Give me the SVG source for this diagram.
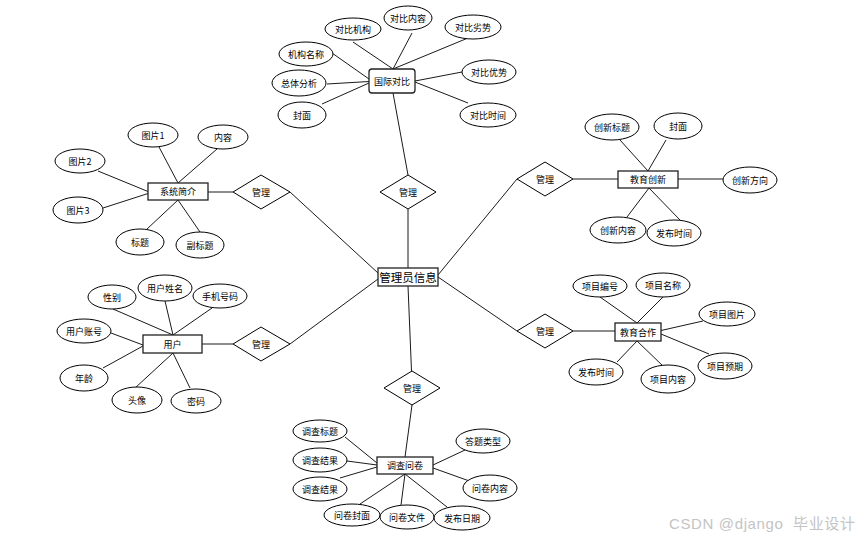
<svg xmlns="http://www.w3.org/2000/svg" width="859" height="540" viewBox="0 0 859 540">
<style>
.bg{fill:#fff}
.ln{stroke:#000;stroke-width:0.9;fill:none}
.el{fill:#fff;stroke:#000;stroke-width:1}
.ent{fill:#fff;stroke:#222;stroke-width:1.3}
.dia{fill:#fff;stroke:#000;stroke-width:1}
text{font-family:"Noto Sans CJK SC","Noto Sans",sans-serif;font-size:9px;fill:#000;text-anchor:middle;dominant-baseline:central}
.big{font-size:11.5px}
.wm{font-family:"Liberation Sans","Noto Sans CJK SC",sans-serif;font-size:15px;fill:#c4c4c4;text-anchor:start;dominant-baseline:alphabetic;white-space:pre}
</style>
<rect class="bg" x="0" y="0" width="859" height="540"/>
<g id="connectors">
<line class="ln" x1="408" y1="209" x2="408" y2="268"/>
<line class="ln" x1="393" y1="93" x2="408" y2="175"/>
<line class="ln" x1="290" y1="192" x2="378" y2="273"/>
<line class="ln" x1="208" y1="192" x2="233" y2="192"/>
<line class="ln" x1="517" y1="179" x2="438" y2="275"/>
<line class="ln" x1="573" y1="179" x2="618" y2="179"/>
<line class="ln" x1="290" y1="344" x2="378" y2="279"/>
<line class="ln" x1="202" y1="344" x2="233" y2="344"/>
<line class="ln" x1="517" y1="331" x2="438" y2="277"/>
<line class="ln" x1="573" y1="331" x2="615" y2="331"/>
<line class="ln" x1="408" y1="286" x2="411.5" y2="371"/>
<line class="ln" x1="412" y1="405" x2="405" y2="457"/>
<line class="ln" x1="353" y1="42" x2="393" y2="69"/>
<line class="ln" x1="412" y1="33" x2="393" y2="69"/>
<line class="ln" x1="468" y1="38" x2="393" y2="69"/>
<line class="ln" x1="332" y1="53" x2="369" y2="79"/>
<line class="ln" x1="327" y1="84" x2="369" y2="81.5"/>
<line class="ln" x1="322" y1="104" x2="369" y2="83"/>
<line class="ln" x1="462" y1="72" x2="415" y2="81"/>
<line class="ln" x1="468" y1="103" x2="415" y2="82"/>
<line class="ln" x1="159" y1="147" x2="178" y2="183"/>
<line class="ln" x1="217" y1="149" x2="178" y2="183"/>
<line class="ln" x1="98" y1="171" x2="148" y2="191.5"/>
<line class="ln" x1="103" y1="208" x2="148" y2="193.5"/>
<line class="ln" x1="147" y1="229" x2="178" y2="200"/>
<line class="ln" x1="200" y1="232" x2="178" y2="200"/>
<line class="ln" x1="620" y1="140" x2="648" y2="171"/>
<line class="ln" x1="666" y1="140" x2="648" y2="171"/>
<line class="ln" x1="678" y1="179" x2="723" y2="179"/>
<line class="ln" x1="627" y1="217" x2="649" y2="188"/>
<line class="ln" x1="680" y1="220" x2="649" y2="188"/>
<line class="ln" x1="113" y1="309" x2="173" y2="335"/>
<line class="ln" x1="165" y1="301" x2="173" y2="335"/>
<line class="ln" x1="212" y1="308" x2="173" y2="335"/>
<line class="ln" x1="111" y1="333" x2="143" y2="345"/>
<line class="ln" x1="103" y1="368" x2="143" y2="346"/>
<line class="ln" x1="135" y1="388" x2="173" y2="353"/>
<line class="ln" x1="190" y1="388" x2="173" y2="353"/>
<line class="ln" x1="600" y1="297" x2="637" y2="323"/>
<line class="ln" x1="663" y1="297" x2="637" y2="323"/>
<line class="ln" x1="703" y1="321" x2="661" y2="330.5"/>
<line class="ln" x1="709" y1="354" x2="661" y2="334"/>
<line class="ln" x1="617" y1="362" x2="637" y2="341"/>
<line class="ln" x1="663" y1="366" x2="637" y2="341"/>
<line class="ln" x1="345" y1="437" x2="377" y2="463"/>
<line class="ln" x1="347" y1="461" x2="377" y2="465"/>
<line class="ln" x1="340" y1="478" x2="377" y2="467"/>
<line class="ln" x1="360" y1="504" x2="405" y2="474"/>
<line class="ln" x1="401" y1="505" x2="405" y2="474"/>
<line class="ln" x1="447" y1="507" x2="405" y2="474"/>
<line class="ln" x1="465" y1="450" x2="433" y2="465"/>
<line class="ln" x1="475" y1="483" x2="433" y2="468"/>
</g>

<g id="center"><rect class="ent" x="378" y="268" width="60" height="18"/><text class="big" x="408" y="277">管理员信息</text></g>

<g id="rel-top"><polygon class="dia" points="408,175 436,192 408,209 380,192"/><text x="408" y="192">管理</text></g>
<g id="rel-left1"><polygon class="dia" points="261,175 290,192 261,209 233,192"/><text x="261" y="192">管理</text></g>
<g id="rel-right1"><polygon class="dia" points="545,162 573,179 545,196 517,179"/><text x="545" y="179">管理</text></g>
<g id="rel-left2"><polygon class="dia" points="261,327 290,344 261,361 233,344"/><text x="261" y="344">管理</text></g>
<g id="rel-right2"><polygon class="dia" points="545,314 573,331 545,348 517,331"/><text x="545" y="331">管理</text></g>
<g id="rel-bottom"><polygon class="dia" points="412,371 440,388 412,405 384,388"/><text x="412" y="388">管理</text></g>

<g id="guoji"><rect class="ent" x="369" y="69" width="46" height="24" rx="3"/><text x="392" y="81">国际对比</text></g>
<g id="a-duibijigou"><ellipse class="el" cx="353" cy="29" rx="28" ry="11"/><text x="353" y="29">对比机构</text></g>
<g id="a-duibineirong"><ellipse class="el" cx="408" cy="18" rx="24" ry="12"/><text x="408" y="18">对比内容</text></g>
<g id="a-duibilieshi"><ellipse class="el" cx="473" cy="27" rx="28" ry="12"/><text x="473" y="27">对比劣势</text></g>
<g id="a-jigoumingcheng"><ellipse class="el" cx="306" cy="54" rx="27" ry="12"/><text x="306" y="54">机构名称</text></g>
<g id="a-zongtifenxi"><ellipse class="el" cx="299" cy="83" rx="27" ry="13"/><text x="299" y="83">总体分析</text></g>
<g id="a-fengmian1"><ellipse class="el" cx="302" cy="115" rx="24" ry="13"/><text x="302" y="115">封面</text></g>
<g id="a-duibiyoushi"><ellipse class="el" cx="489" cy="72" rx="27" ry="12"/><text x="489" y="72">对比优势</text></g>
<g id="a-duibishijian"><ellipse class="el" cx="488" cy="115" rx="28" ry="12"/><text x="488" y="115">对比时间</text></g>

<g id="xitong"><rect class="ent" x="148" y="183" width="60" height="17"/><text x="178" y="191.5">系统简介</text></g>
<g id="a-tupian1"><ellipse class="el" cx="153" cy="135" rx="25" ry="12"/><text x="153" y="135">图片1</text></g>
<g id="a-neirong"><ellipse class="el" cx="223" cy="137" rx="25" ry="12"/><text x="223" y="137">内容</text></g>
<g id="a-tupian2"><ellipse class="el" cx="80" cy="161" rx="25" ry="12"/><text x="80" y="161">图片2</text></g>
<g id="a-tupian3"><ellipse class="el" cx="78" cy="210" rx="25" ry="13"/><text x="78" y="210">图片3</text></g>
<g id="a-biaoti"><ellipse class="el" cx="140" cy="242" rx="24" ry="13"/><text x="140" y="242">标题</text></g>
<g id="a-fubiaoti"><ellipse class="el" cx="200" cy="245" rx="24" ry="13"/><text x="200" y="245">副标题</text></g>

<g id="chuangxin"><rect class="ent" x="618" y="171" width="60" height="17"/><text x="648" y="179.5">教育创新</text></g>
<g id="a-cxbiaoti"><ellipse class="el" cx="612" cy="127" rx="27" ry="13"/><text x="612" y="127">创新标题</text></g>
<g id="a-fengmian2"><ellipse class="el" cx="678" cy="126" rx="24" ry="13"/><text x="678" y="126">封面</text></g>
<g id="a-cxfangxiang"><ellipse class="el" cx="750" cy="180" rx="27" ry="13"/><text x="750" y="180">创新方向</text></g>
<g id="a-cxneirong"><ellipse class="el" cx="618" cy="230" rx="28" ry="13"/><text x="618" y="230">创新内容</text></g>
<g id="a-fabushijian1"><ellipse class="el" cx="674" cy="233" rx="27" ry="13"/><text x="674" y="233">发布时间</text></g>

<g id="yonghu"><rect class="ent" x="143" y="335" width="59" height="18"/><text x="172.5" y="344">用户</text></g>
<g id="a-xingbie"><ellipse class="el" cx="112" cy="297" rx="24" ry="12"/><text x="112" y="297">性别</text></g>
<g id="a-xingming"><ellipse class="el" cx="165" cy="288" rx="27" ry="13"/><text x="165" y="288">用户姓名</text></g>
<g id="a-shouji"><ellipse class="el" cx="220" cy="296" rx="27" ry="12"/><text x="220" y="296">手机号码</text></g>
<g id="a-zhanghao"><ellipse class="el" cx="84" cy="331" rx="27" ry="12"/><text x="84" y="331">用户账号</text></g>
<g id="a-nianling"><ellipse class="el" cx="84" cy="378" rx="24" ry="13"/><text x="84" y="378">年龄</text></g>
<g id="a-touxiang"><ellipse class="el" cx="137" cy="400" rx="25" ry="13"/><text x="137" y="400">头像</text></g>
<g id="a-mima"><ellipse class="el" cx="196" cy="401" rx="25" ry="12"/><text x="196" y="401">密码</text></g>

<g id="hezuo"><rect class="ent" x="615" y="323" width="46" height="18"/><text x="638" y="332">教育合作</text></g>
<g id="a-xmbianhao"><ellipse class="el" cx="600" cy="286" rx="27" ry="11"/><text x="600" y="286">项目编号</text></g>
<g id="a-xmmingcheng"><ellipse class="el" cx="663" cy="285" rx="27" ry="12"/><text x="663" y="285">项目名称</text></g>
<g id="a-xmtupian"><ellipse class="el" cx="727" cy="314" rx="28" ry="12"/><text x="727" y="314">项目图片</text></g>
<g id="a-xmyuqi"><ellipse class="el" cx="725" cy="366" rx="27" ry="13"/><text x="725" y="366">项目预期</text></g>
<g id="a-fabushijian2"><ellipse class="el" cx="596" cy="372" rx="27" ry="13"/><text x="596" y="372">发布时间</text></g>
<g id="a-xmneirong"><ellipse class="el" cx="668" cy="379" rx="27" ry="14"/><text x="668" y="379">项目内容</text></g>

<g id="wenjuan"><rect class="ent" x="377" y="457" width="56" height="17"/><text x="405" y="465.5">调查问卷</text></g>
<g id="a-dcbiaoti"><ellipse class="el" cx="320" cy="431" rx="27" ry="11"/><text x="320" y="431">调查标题</text></g>
<g id="a-dcjieguo1"><ellipse class="el" cx="320" cy="460" rx="27" ry="12"/><text x="320" y="460">调查结果</text></g>
<g id="a-dcjieguo2"><ellipse class="el" cx="320" cy="489" rx="27" ry="12"/><text x="320" y="489">调查结果</text></g>
<g id="a-wjfengmian"><ellipse class="el" cx="352" cy="515" rx="28" ry="11"/><text x="352" y="515">问卷封面</text></g>
<g id="a-wjwenjian"><ellipse class="el" cx="407" cy="517" rx="27" ry="12"/><text x="407" y="517">问卷文件</text></g>
<g id="a-fabuqi"><ellipse class="el" cx="462" cy="518" rx="28" ry="12"/><text x="462" y="518">发布日期</text></g>
<g id="a-datileixing"><ellipse class="el" cx="483" cy="441" rx="27" ry="12"/><text x="483" y="441">答题类型</text></g>
<g id="a-wjneirong"><ellipse class="el" cx="490" cy="488" rx="27" ry="13"/><text x="490" y="488">问卷内容</text></g>

<text class="wm" x="669" y="529" textLength="186" lengthAdjust="spacing">CSDN @django  毕业设计</text>
</svg>
